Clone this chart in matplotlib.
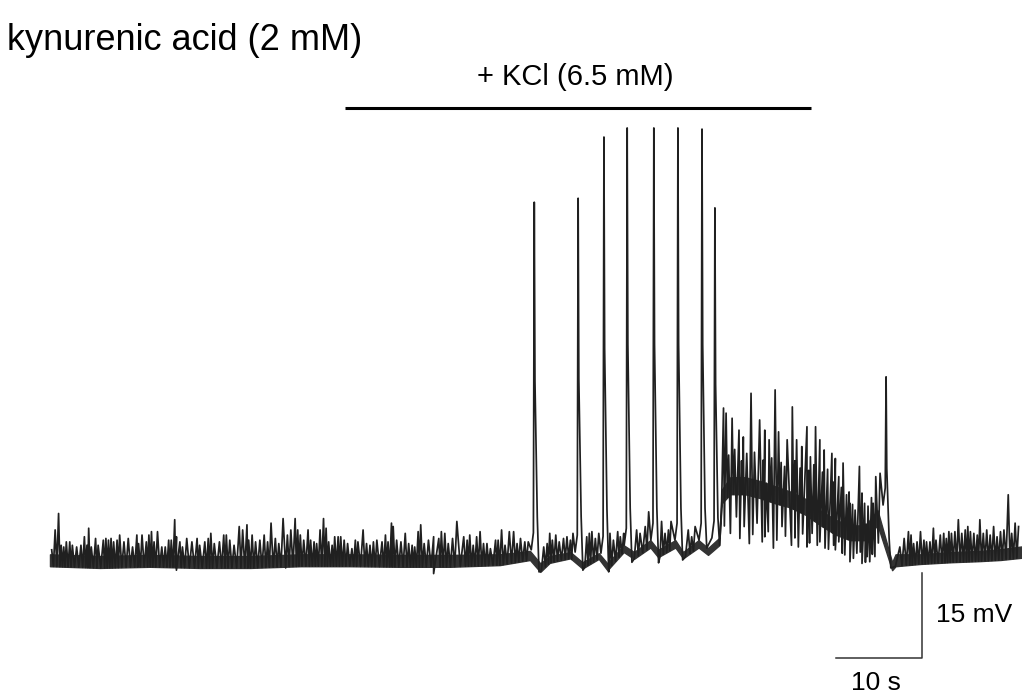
import numpy as np
import matplotlib
matplotlib.use("Agg")
import matplotlib.pyplot as plt

plt.rcParams['font.family'] = ['Liberation Sans', 'DejaVu Sans']

# --- recording, time in s, membrane potential in mV relative to rest ---

# dense core of the noise band: time, lower edge, upper edge
band_t = [0.0, 5.8, 11.6, 17.4, 23.3, 29.1, 34.9, 40.7, 46.5, 52.3, 55.8,
          57.0, 58.1, 60.5, 61.9, 63.8, 64.8, 66.7, 67.9, 69.8, 70.7, 72.7,
          73.6, 75.4, 76.5, 77.8,
          78.1, 79.1, 80.8, 82.6, 84.3, 86.0, 87.8, 89.5, 91.3, 93.0, 94.8, 96.2,
          97.9, 98.3, 101.2, 104.7, 108.1, 110.5, 113.0]
band_lo = [-1.1, -1.4, -1.2, -1.4, -1.4, -1.1, -1.1, -1.2, -1.2, -0.9, 0.0,
           -2.1, -0.5, 0.3, -1.5, 0.2, -1.8, 1.4, 0.2, 2.2, 0.5, 2.2,
           0.3, 2.2, 0.9, 2.6,
           10.0, 11.6, 11.6, 10.9, 10.0, 9.3, 8.0, 6.2, 4.5, 3.5, 3.5, 6.2,
           -1.8, -1.1, -0.7, -0.4, -0.2, 0.0, 0.4]
band_hi = [1.0, 0.7, 0.9, 0.7, 0.7, 1.0, 1.0, 0.9, 0.9, 1.0, 1.6,
           -0.6, 0.7, 1.4, -0.4, 1.2, -0.6, 2.6, 1.4, 3.5, 1.8, 3.5,
           1.4, 3.5, 2.1, 3.9,
           12.4, 14.6, 14.6, 13.9, 13.0, 12.1, 10.8, 8.8, 7.1, 6.1, 6.1, 8.8,
           -0.4, 1.0, 1.0, 1.4, 1.6, 1.9, 2.4]

# upward fluctuations (time, peak)
up_t = [0.2, 0.6, 1.0, 1.3, 1.6, 1.9, 2.3, 2.6, 3.1, 3.6, 4.0, 4.3, 4.5, 4.8,
        5.3, 5.6, 6.2, 6.5, 6.8, 7.1, 7.4, 7.8, 8.1, 8.6, 9.1, 9.6, 10.1, 10.3,
        10.7, 11.2, 11.5, 11.8, 12.1, 12.5, 13.0, 13.4, 13.8, 14.1, 14.5, 14.7,
        15.1, 15.4, 15.9, 16.5, 17.1, 17.4, 18.0, 18.4,
        18.7, 19.1, 19.7, 20.2, 20.5, 20.9, 21.4, 22.0, 22.4, 22.9, 23.1, 23.5,
        23.9, 24.4, 24.9, 25.3, 25.7, 26.2, 26.6, 27.1, 27.6, 28.0, 28.5, 28.8,
        29.1, 29.5, 30.0, 30.3, 30.7, 31.0, 31.4, 31.8, 32.1, 32.4, 32.8, 33.1,
        33.5, 33.8, 34.2, 34.6, 35.1, 35.5, 35.8, 36.4, 36.8,
        37.2, 37.6, 38.0, 38.6, 39.0, 39.3, 39.7, 39.9, 40.3, 40.8, 41.3, 41.7,
        42.1, 42.4, 42.8, 43.1, 43.5, 44.0, 44.6, 45.2, 45.5, 45.9, 46.3, 46.8,
        47.3, 48.1, 48.5, 48.8, 49.2, 49.6, 50.0, 50.4, 50.8, 51.2, 51.8, 52.1,
        52.5, 52.9, 53.4, 53.9, 54.3, 54.7, 55.2, 55.6,
        57.4, 57.8, 58.1, 58.4, 58.8, 59.2, 59.7, 60.1, 60.5, 60.8,
        62.4, 62.7, 63.0, 63.4, 63.8, 65.1, 65.5, 66.0, 66.3, 66.7,
        68.2, 68.6, 69.2, 69.6, 71.1, 71.5, 71.9, 72.2,
        74.2, 74.6, 75.0,
        78.3, 78.6, 78.9, 79.3, 79.6, 80.1, 80.4, 80.6, 81.0, 81.5, 81.9, 82.5,
        82.9, 83.1, 83.6, 83.9, 84.3, 84.7, 85.0, 85.4, 85.7, 86.3, 86.6, 86.8,
        87.2, 87.4, 88.0, 88.2, 88.4, 88.8, 89.0, 89.5, 89.8, 90.0, 90.4, 90.9,
        91.0, 91.3, 91.7, 92.0, 92.2, 92.6, 92.9, 93.0, 93.3, 93.6, 94.1, 94.4,
        94.7, 95.1, 95.5, 95.7, 96.0, 96.5,
        98.8, 99.3, 99.8, 100.1, 100.4, 100.8, 101.2, 101.6, 101.9, 102.3,
        102.7, 103.0, 103.5, 103.9, 104.2, 104.5, 104.8, 105.2, 105.6, 106.0,
        106.4, 106.7, 107.0, 107.4, 107.8, 108.1, 108.5, 108.9, 109.3, 109.7,
        110.1, 110.5, 110.9, 111.4, 111.8, 112.2, 112.6]
up_v = [1.8, 5.3, 8.2, 2.6, 2.3, 3.2, 3.2, 2.6, 2.3, 2.6, 4.1, 2.6, 5.6, 2.3,
        3.8, 2.6, 3.5, 3.8, 3.5, 3.8, 3.2, 3.5, 4.4, 3.2, 3.8, 2.3, 4.4, 2.9,
        4.4, 3.2, 4.4, 5.0, 3.2, 5.0, 2.3, 2.3, 3.5, 3.5, 7.1, 4.1,
        3.2, 2.3, 3.8, 3.2, 3.8, 2.6, 3.2, 3.8,
        4.7, 2.9, 3.2, 4.4, 4.4, 3.5, 2.6, 5.9, 5.3, 6.2, 3.5, 4.4,
        3.2, 3.5, 4.4, 3.2, 6.5, 3.8, 2.9, 7.3, 4.4, 5.3, 7.3, 5.3,
        4.4, 3.5, 5.3, 3.5, 3.2, 2.9, 5.3, 7.3, 5.6, 3.2, 2.6, 4.1,
        4.1, 4.1, 3.5, 2.9, 2.0, 3.5, 3.2, 5.3, 2.9,
        2.6, 3.2, 3.5, 3.2, 4.4, 3.2, 6.5, 5.9, 3.5, 3.2, 4.7, 2.9,
        2.6, 2.3, 5.0, 6.2, 2.9, 3.5, 4.1, 3.8, 5.0, 4.7, 2.9, 3.8,
        6.8, 4.1, 3.5, 4.4, 2.6, 4.1, 5.0, 2.9, 2.9, 2.0, 3.5, 3.5,
        5.3, 2.6, 5.0, 5.0, 2.9, 3.8, 3.2, 3.2,
        2.3, 2.9, 4.7, 3.5, 4.4, 3.2, 3.8, 4.1, 3.5, 4.7,
        4.1, 4.7, 5.0, 3.8, 4.7, 4.7, 3.5, 5.0, 4.1, 4.7,
        5.3, 4.7, 5.9, 8.5, 6.8, 4.7, 5.3, 6.8,
        5.3, 4.1, 5.9,
        26.8, 25.9, 18.5, 25.0, 19.5, 22.9, 17.5, 21.7, 18.8, 29.4, 19.0, 24.7,
        17.6, 22.9, 21.2, 18.0, 30.0, 22.6, 17.2, 16.5, 21.2, 27.0, 17.5, 21.2,
        16.2, 20.0, 23.5, 15.8, 18.2, 16.8, 23.5, 21.2, 15.5, 19.4, 16.0, 18.8,
        13.8, 17.9, 14.7, 12.8, 17.1, 11.5, 12.0, 10.0, 9.8, 8.8, 16.5, 11.8,
        10.0, 9.5, 11.0, 10.0, 14.7, 15.3,
        2.3, 3.8, 5.0, 4.4, 2.9, 3.2, 5.0, 3.5, 3.2, 3.2,
        5.6, 3.5, 4.4, 4.7, 3.8, 5.0, 4.7, 5.0, 7.1, 4.7,
        5.3, 5.9, 5.0, 4.7, 4.4, 7.1, 4.7, 5.3, 4.4, 5.9,
        4.1, 5.0, 5.3, 11.5, 4.7, 6.5, 5.9]

# downward fluctuations (time, trough)
down_t = [14.7, 27.4, 44.6,
          78.4, 79.1, 79.8, 80.2, 80.7, 81.3, 81.7, 82.2, 82.8, 83.1, 83.5,
          84.1, 84.5, 85.1, 85.5, 86.2, 86.6, 87.0, 87.5, 88.0, 88.3, 88.6,
          89.2, 89.5, 90.1, 90.5, 91.1, 91.3, 91.7, 92.1, 92.4, 93.0, 93.4,
          93.8, 94.2, 94.4, 94.8, 95.0, 95.3, 95.6, 95.9, 96.3]
down_v = [-1.8, -1.4, -2.4,
          6.0, 4.7, 7.6, 3.8, 5.9, 2.9, 4.5, 6.5, 3.2, 4.1, 5.0,
          2.1, 3.5, 5.9, 4.2, 2.6, 3.9, 2.3, 4.6, 2.3, 3.0, 4.7,
          2.6, 3.2, 2.1, 1.9, 2.6, 1.8, 3.2, 1.2, 0.9, -0.3, 0.3,
          1.2, 1.4, -0.6, -0.4, 0.6, -0.3, 1.0, 0.6, 3.0]

# action potentials: peak time, peak, level before, AHP trough
ap_t = [56.3, 61.4, 64.4, 67.1, 70.2, 73.0, 75.8, 77.3, 97.2]
ap_peak = [63.1, 63.8, 74.6, 76.2, 76.2, 76.2, 76.0, 62.1, 32.3]
ap_pre = [1.8, 1.4, 1.2, 2.6, 3.5, 3.5, 3.5, 3.9, 9.7]
ap_ahp = [-2.1, -1.8, -2.1, -0.4, -0.5, 0.0, 2.1, 2.6, -1.4]

# KCl application and scale bars
kcl_on, kcl_off = 34.3, 88.5
bar_t, bar_v = 101.4, -17.3
bar_dt, bar_dv = 10, 15

trace_col = '#202020'

# assemble one polyline from fluctuations and spike waveforms
pts = [(t, v, 'u') for t, v in zip(up_t, up_v)]
pts += [(t, v, 'd') for t, v in zip(down_t, down_v)]
for t, pk, pre, ahp in zip(ap_t, ap_peak, ap_pre, ap_ahp):
    offs = [-0.35, -0.1, 0.0, 0.08, 0.2, 0.35, 0.55]
    vals = [pre, pre + 3, pk, pk * 0.5, pk * 0.33, pk * 0.12, ahp]
    pts += [(t + o, v, 'a') for o, v in zip(offs, vals)]
pts.sort(key=lambda p: p[0])

xs, ys = [], []
for i, (t, v, kind) in enumerate(pts):
    if i > 0:
        tp, _, kp = pts[i - 1]
        mid = (t + tp) / 2
        if kind == 'u' and kp in ('u', 'a'):
            xs.append(mid)
            ys.append(np.interp(mid, band_t, band_lo))
        elif kind == 'd' and kp == 'd':
            xs.append(mid)
            ys.append(np.interp(mid, band_t, band_hi))
    xs.append(t)
    ys.append(v)

fig = plt.figure(figsize=(10.22, 6.98), dpi=100)
ax = fig.add_axes([0, 0, 1, 1])
ax.set_xlim(-5.81, 113.0)
ax.set_ylim(-24.34, 98.77)
ax.axis('off')

ax.fill_between(band_t, band_lo, band_hi, color='#333333', lw=1.0,
                edgecolor='#333333')
ax.plot(xs, ys, color=trace_col, lw=1.25)

ax.text(-5.0, 89.9, 'kynurenic acid (2 mM)', fontsize=26, ha='left',
        va='baseline')
ax.plot([kcl_on, kcl_off], [79.7, 79.7], color='black', lw=2.2,
        solid_capstyle='butt')
ax.text((kcl_on + kcl_off) / 2 - 0.3, 83.8, '+ KCl (6.5 mM)', fontsize=21,
        ha='center', va='baseline')

ax.plot([bar_t - bar_dt, bar_t, bar_t], [bar_v, bar_v, bar_v + bar_dv],
        color='#333333', lw=1.1)
ax.text(bar_t + 1.6, bar_v + 7.6, '15 mV', fontsize=19, ha='left',
        va='center')
ax.text(bar_t - bar_dt / 2 - 0.4, -21.7, '10 s', fontsize=19, ha='center',
        va='center')

fig.savefig('out.png', dpi=100)
